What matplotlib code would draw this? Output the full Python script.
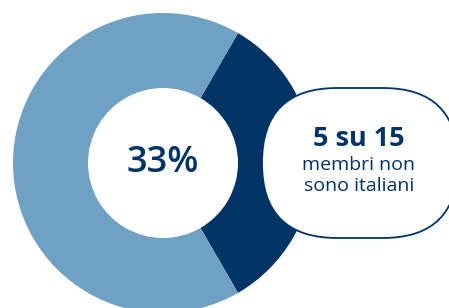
import matplotlib
matplotlib.use("Agg")
import matplotlib.pyplot as plt
from matplotlib.patches import FancyBboxPatch

# data
labels = ["non italiani", "italiani"]
members = [5, 10]
total = sum(members)
pct_label = f"{round(100 * members[0] / total)}%"
headline = f"{members[0]} su {total}"
caption = ["membri non", "sono italiani"]

DARK = "#003366"
LIGHT = "#6fa1c4"

W, H = 449, 308
fig = plt.figure(figsize=(W / 100, H / 100), dpi=100)
ax = fig.add_axes([0, 0, 1, 1])
ax.set_xlim(0, W)
ax.set_ylim(0, H)
ax.set_aspect("equal")
ax.axis("off")

cx, cy = 163, H - 163
ax.pie(members, radius=150, center=(cx, cy), startangle=-60, counterclock=True,
       colors=[DARK, LIGHT], wedgeprops=dict(width=75, linewidth=0))
ax.set_xlim(0, W)
ax.set_ylim(0, H)

ax.text(cx, cy, pct_label, ha="center", va="center", fontsize=26,
        fontweight="semibold", color=DARK, family="Open Sans")

# pill-shaped callout
pill = FancyBboxPatch((262, cy - 75), 196, 150,
                      boxstyle="round,pad=0,rounding_size=75",
                      facecolor="white", edgecolor=DARK, linewidth=1.3, zorder=5)
ax.add_patch(pill)

tx = 359
ax.text(tx, H - 139, headline, ha="center", va="center", fontsize=19.5,
        fontweight="bold", color=DARK, family="Open Sans", zorder=6)
ax.text(tx, H - 165, caption[0], ha="center", va="center", fontsize=14,
        color=DARK, family="Open Sans", zorder=6)
ax.text(tx, H - 186, caption[1], ha="center", va="center", fontsize=14,
        color=DARK, family="Open Sans", zorder=6)

fig.savefig("out.png", dpi=100)
